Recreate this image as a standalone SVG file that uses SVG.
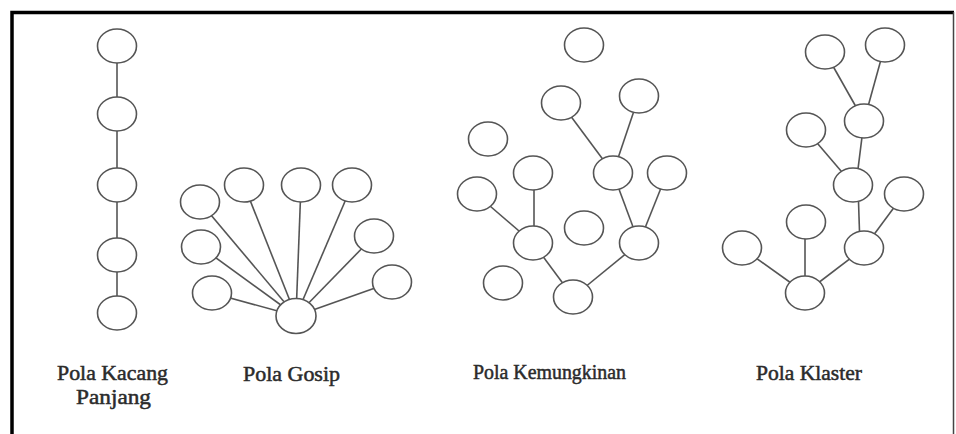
<svg xmlns="http://www.w3.org/2000/svg" width="956" height="434" viewBox="0 0 956 434">
<style>
.n{fill:#fff;stroke:#555;stroke-width:1.6}
.e line{stroke:#555;stroke-width:1.6}
.t{font-family:"Liberation Serif","Times New Roman",serif;font-size:21px;fill:#2b2b2b;stroke:#2b2b2b;stroke-width:0.5}
</style>
<rect width="956" height="434" fill="#fff"/>
<path d="M12 436 V12.5 H954" fill="none" stroke="#000" stroke-width="3.5"/>
<line x1="953.5" y1="12" x2="953.5" y2="434" stroke="#444" stroke-width="1.5"/>
<g class="e" id="connectors">
<line x1="117" y1="46" x2="117" y2="313"/>
<line x1="200" y1="202" x2="296" y2="316"/>
<line x1="201" y1="247" x2="296" y2="316"/>
<line x1="212" y1="293" x2="296" y2="316"/>
<line x1="244" y1="185" x2="296" y2="316"/>
<line x1="301" y1="185" x2="296" y2="316"/>
<line x1="352" y1="185" x2="296" y2="316"/>
<line x1="374" y1="236" x2="296" y2="316"/>
<line x1="392" y1="282" x2="296" y2="316"/>
<line x1="561" y1="103" x2="613" y2="173"/>
<line x1="639" y1="96" x2="613" y2="173"/>
<line x1="613" y1="173" x2="639" y2="243"/>
<line x1="667" y1="173" x2="639" y2="243"/>
<line x1="534" y1="173" x2="534" y2="243"/>
<line x1="483" y1="200" x2="533" y2="243"/>
<line x1="533" y1="243" x2="573" y2="297"/>
<line x1="639" y1="243" x2="573" y2="297"/>
<line x1="825" y1="52" x2="864" y2="121"/>
<line x1="885" y1="45" x2="864" y2="121"/>
<line x1="864" y1="121" x2="856" y2="185"/>
<line x1="806" y1="130" x2="853" y2="185"/>
<line x1="858" y1="185" x2="860" y2="248"/>
<line x1="904" y1="194" x2="864" y2="248"/>
<line x1="805" y1="222" x2="805" y2="293"/>
<line x1="742" y1="248" x2="805" y2="293"/>
<line x1="864" y1="248" x2="805" y2="293"/>
</g>
<g id="kacang">
<ellipse class="n" cx="117" cy="46" rx="19.5" ry="17"/>
<ellipse class="n" cx="117" cy="114" rx="19.5" ry="17"/>
<ellipse class="n" cx="117" cy="185" rx="19.5" ry="17"/>
<ellipse class="n" cx="117" cy="255" rx="19.5" ry="17"/>
<ellipse class="n" cx="117" cy="313" rx="19.5" ry="17"/>
</g>
<g id="gosip">
<ellipse class="n" cx="296" cy="316" rx="20" ry="17.5"/>
<ellipse class="n" cx="200" cy="202" rx="19.5" ry="17"/>
<ellipse class="n" cx="201" cy="247" rx="19.5" ry="17"/>
<ellipse class="n" cx="212" cy="293" rx="19.5" ry="17"/>
<ellipse class="n" cx="244" cy="185" rx="19.5" ry="17"/>
<ellipse class="n" cx="301" cy="185" rx="19.5" ry="17"/>
<ellipse class="n" cx="352" cy="185" rx="19.5" ry="17"/>
<ellipse class="n" cx="374" cy="236" rx="19.5" ry="17"/>
<ellipse class="n" cx="392" cy="282" rx="19.5" ry="17"/>
</g>
<g id="kemungkinan">
<ellipse class="n" cx="584" cy="45" rx="19.5" ry="17"/>
<ellipse class="n" cx="561" cy="103" rx="19.5" ry="17"/>
<ellipse class="n" cx="639" cy="96" rx="19.5" ry="17"/>
<ellipse class="n" cx="488" cy="139" rx="19.5" ry="17"/>
<ellipse class="n" cx="613" cy="173" rx="19.5" ry="17"/>
<ellipse class="n" cx="667" cy="173" rx="19.5" ry="17"/>
<ellipse class="n" cx="533" cy="173" rx="19.5" ry="17"/>
<ellipse class="n" cx="477" cy="194" rx="19.5" ry="17"/>
<ellipse class="n" cx="584" cy="228" rx="19.5" ry="17"/>
<ellipse class="n" cx="533" cy="243" rx="19.5" ry="17"/>
<ellipse class="n" cx="639" cy="243" rx="19.5" ry="17"/>
<ellipse class="n" cx="503" cy="283" rx="19.5" ry="17"/>
<ellipse class="n" cx="573" cy="297" rx="19.5" ry="17"/>
</g>
<g id="klaster">
<ellipse class="n" cx="825" cy="52" rx="19.5" ry="17"/>
<ellipse class="n" cx="885" cy="45" rx="19.5" ry="17"/>
<ellipse class="n" cx="864" cy="121" rx="19.5" ry="17"/>
<ellipse class="n" cx="806" cy="130" rx="19.5" ry="17"/>
<ellipse class="n" cx="853" cy="185" rx="19.5" ry="17"/>
<ellipse class="n" cx="904" cy="194" rx="19.5" ry="17"/>
<ellipse class="n" cx="806" cy="222" rx="19.5" ry="17"/>
<ellipse class="n" cx="864" cy="248" rx="19.5" ry="17"/>
<ellipse class="n" cx="742" cy="248" rx="19.5" ry="17"/>
<ellipse class="n" cx="805" cy="293" rx="19.5" ry="17"/>
</g>
<g id="labels">
<text class="t" x="57" y="380" textLength="111" lengthAdjust="spacingAndGlyphs">Pola Kacang</text>
<text class="t" x="76" y="404" textLength="75" lengthAdjust="spacingAndGlyphs">Panjang</text>
<text class="t" x="243" y="381" textLength="97" lengthAdjust="spacingAndGlyphs">Pola Gosip</text>
<text class="t" x="473" y="379" textLength="153" lengthAdjust="spacingAndGlyphs">Pola Kemungkinan</text>
<text class="t" x="756" y="380" textLength="106" lengthAdjust="spacingAndGlyphs">Pola Klaster</text>
</g>
</svg>
